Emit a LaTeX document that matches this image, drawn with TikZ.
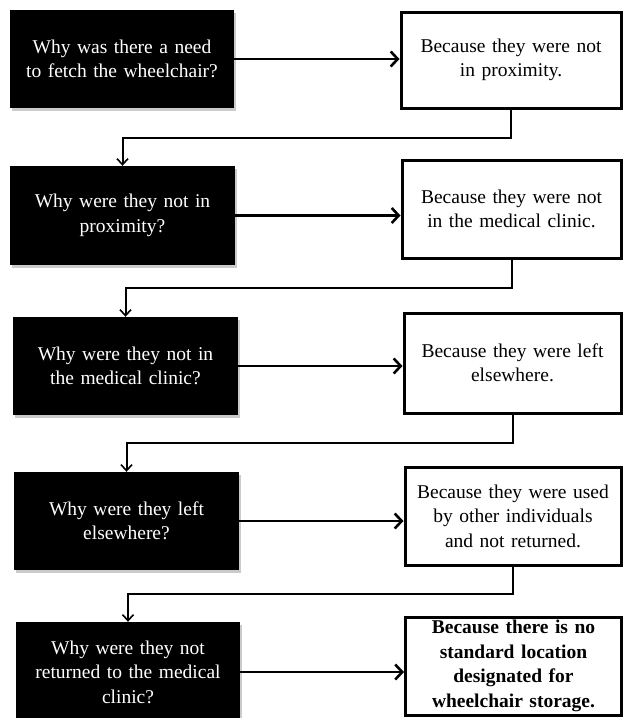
\documentclass[tikz,border=0pt]{standalone}
\usepackage{fontspec}
\setmainfont{Liberation Serif}
\usetikzlibrary{arrows.meta,calc,shadows}
\begin{document}
\begin{tikzpicture}[x=1pt,y=-1pt,
  qbox/.style={rectangle, fill=black, text=white, draw=none, inner sep=2pt,
    minimum width=224pt, minimum height=98pt, text width=218pt, align=center,
    font=\fontsize{19.5}{24.5}\selectfont,
    drop shadow={shadow xshift=1.5pt, shadow yshift=-2.5pt, fill=black!40, opacity=0.5}},
  abox/.style={rectangle, fill=white, draw=black, line width=3pt, inner sep=2pt,
    minimum width=218pt, minimum height=98pt, text width=212pt, align=center,
    font=\fontsize{19.5}{24.5}\selectfont},
  harr/.style={line width=2.6pt, -{Straight Barb[length=7pt,width=15pt]}},
  conn/.style={line width=2pt, -{Straight Barb[length=6pt,width=11pt,line width=1.6pt]}}
]
\useasboundingbox (0,0) rectangle (623,718);
\fill[white] (0,0) rectangle (623,718);
\clip (0,0) rectangle (623,718);

\node[qbox] (b1) at (122,59) {Why was there a need\\to fetch the wheelchair?};
\node[abox, minimum width=220pt, minimum height=96pt] (w1) at (511,60) {Because they were not\\in proximity.};

\node[qbox, minimum width=225pt, minimum height=99pt] (b2) at (122.5,215.5) {Why were they not in\\proximity?};
\node[abox, minimum width=219pt] (w2) at (511.5,209) {Because they were not\\in the medical clinic.};

\node[qbox, minimum width=225pt] (b3) at (125.5,366) {Why were they not in\\the medical clinic?};
\node[abox, minimum width=217pt, minimum height=100pt] (w3) at (512.5,363) {Because they were left\\elsewhere.};

\node[qbox, minimum width=225pt] (b4) at (126.5,521) {Why were they left\\elsewhere?};
\node[abox, minimum width=216pt] (w4) at (513,516) {Because they were used\\by other individuals\\and not returned.};

\node[qbox, minimum height=100pt] (b5) at (128,672) {Why were they not\\returned to the medical\\clinic?};
\node[abox, minimum width=215pt, font=\fontsize{19.5}{24.5}\selectfont\bfseries] (w5) at (513.5,666) {Because there is no\\standard location\\designated for\\wheelchair storage.};

\draw[harr] (b1.east) -- (b1.east -| w1.west);
\draw[harr] (b2.east) -- (b2.east -| w2.west);
\draw[harr] (b3.east) -- (b3.east -| w3.west);
\draw[harr] (b4.east) -- (b4.east -| w4.west);
\draw[harr] (b5.east) -- (b5.east -| w5.west);

\draw[conn] (w1.south) -- ($(w1.south)!0.5!(w1.south |- b2.north)$) -| (b2.north);
\draw[conn] (w2.south) -- ($(w2.south)!0.5!(w2.south |- b3.north)$) -| (b3.north);
\draw[conn] (w3.south) -- ($(w3.south)!0.5!(w3.south |- b4.north)$) -| (b4.north);
\draw[conn] (w4.south) -- ($(w4.south)!0.5!(w4.south |- b5.north)$) -| (b5.north);
\end{tikzpicture}
\end{document}
